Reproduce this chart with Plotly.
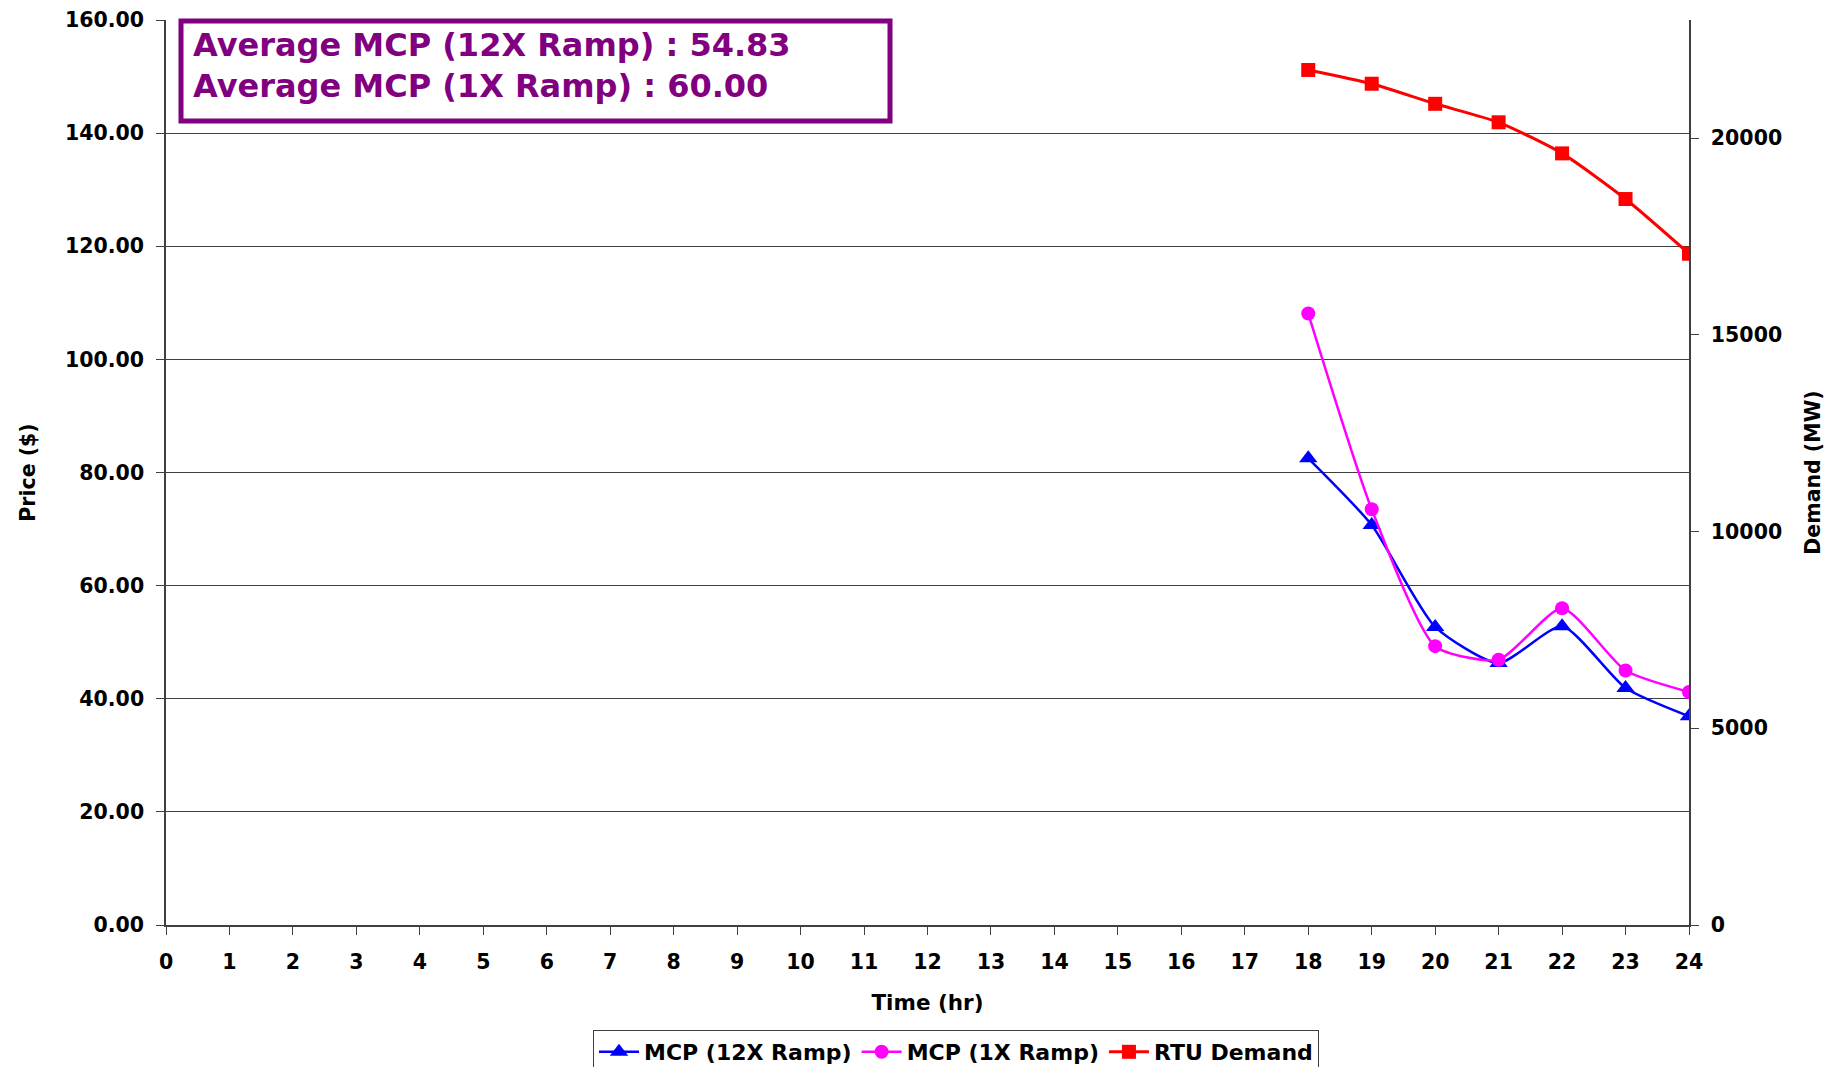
import plotly.graph_objects as go

hours = [18, 19, 20, 21, 22, 23, 24]
mcp_12x = [82.5, 70.7, 52.7, 46.3, 52.8, 41.9, 36.9]
mcp_1x = [108.1, 73.5, 49.3, 46.9, 56.0, 45.0, 41.2]
rtu_demand = [21730, 21380, 20870, 20400, 19610, 18450, 17060]
x_ticks = list(range(0, 25))
price_ticks = [0, 20, 40, 60, 80, 100, 120, 140, 160]
price_tick_text = ["%.2f" % v for v in price_ticks]
demand_ticks = [0, 5000, 10000, 15000, 20000]
demand_tick_text = [str(v) for v in demand_ticks]
box_lines = ["Average MCP (12X Ramp) : 54.83", "Average MCP (1X Ramp) : 60.00"]

FONT = "DejaVu Sans"
OFF = 8  # default page body margin
W, H = 1843 - 2 * OFF, 1067 - OFF
# plot area in page coordinates
L, R, T, B = 166, 1689, 20, 925

fig = go.Figure()
fig.add_trace(go.Scatter(x=hours, y=mcp_12x, name="MCP (12X Ramp)", mode="lines+markers",
                         line=dict(color="#0000FF", width=2.5, shape="spline", smoothing=0.6),
                         marker=dict(symbol="triangle-up", size=16, color="#0000FF")))
fig.add_trace(go.Scatter(x=hours, y=mcp_1x, name="MCP (1X Ramp)", mode="lines+markers",
                         line=dict(color="#FF00FF", width=2.5, shape="spline", smoothing=0.6),
                         marker=dict(symbol="circle", size=14, color="#FF00FF")))
fig.add_trace(go.Scatter(x=hours, y=rtu_demand, name="RTU Demand", mode="lines+markers", yaxis="y2",
                         line=dict(color="#FF0000", width=3, shape="spline", smoothing=0.6),
                         marker=dict(symbol="square", size=14, color="#FF0000")))

pw = R - L
ph = B - T

def px(x):
    return (x - L) / pw

def py(y):
    return (B - y) / ph

fig.add_shape(type="rect", xref="paper", yref="paper",
              x0=px(181), x1=px(890), y0=py(21), y1=py(121),
              line=dict(color="#800080", width=5), fillcolor="white", layer="above")
for i, t in enumerate(box_lines):
    fig.add_annotation(text=t, xref="paper", yref="paper", x=px(191), y=py([45, 86][i]),
                       xanchor="left", yanchor="middle", showarrow=False,
                       font=dict(family=FONT, size=32, color="#800080", weight="bold"))

axis_common = dict(tickcolor="#404040", ticks="outside", ticklen=8, showline=True,
                   linecolor="#404040", zeroline=False)

fig.update_layout(
    width=W, height=H,
    margin=dict(l=L - OFF, r=W - (R - OFF), t=T - OFF, b=H - (B - OFF), autoexpand=False),
    paper_bgcolor="white", plot_bgcolor="white",
    font=dict(family=FONT, size=20.5, color="black", weight="bold"),
    xaxis=dict(range=[0, 24], tickvals=x_ticks, linewidth=2, showgrid=False,
               ticklabelstandoff=9, **axis_common,
               title=dict(text="Time (hr)", standoff=22, font=dict(size=21.5, weight="bold"))),
    yaxis=dict(range=[0, 160], tickvals=price_ticks, ticktext=price_tick_text, linewidth=1.5,
               showgrid=True, gridcolor="#404040", gridwidth=1, ticklabelstandoff=8,
               **axis_common,
               title=dict(text="Price ($)", standoff=24, font=dict(size=20.5, weight="bold"))),
    yaxis2=dict(range=[0, 23000], tickvals=demand_ticks, ticktext=demand_tick_text,
                overlaying="y", side="right", linewidth=1.5, showgrid=False,
                ticklabelstandoff=8, **axis_common,
                title=dict(text="Demand (MW)", standoff=24, font=dict(size=20.5, weight="bold"))),
    legend=dict(orientation="h", x=px(956), xanchor="center", y=py(1030), yanchor="top",
                bordercolor="#404040", borderwidth=1, bgcolor="white",
                font=dict(size=22, weight="bold"), itemwidth=40, tracegroupgap=0),
    showlegend=True,
)

fig.write_html("out.html")
